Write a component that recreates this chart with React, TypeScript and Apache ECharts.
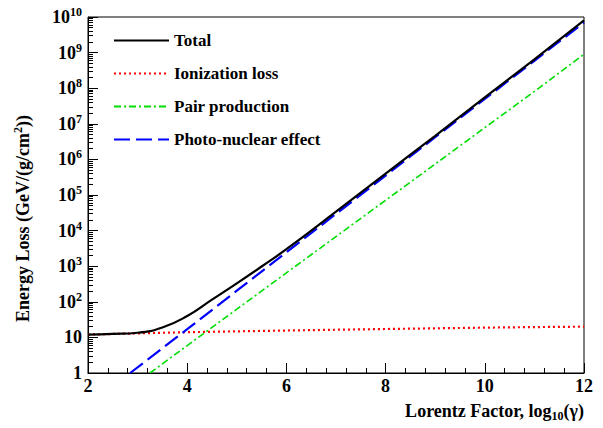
import React, { useEffect, useRef } from "react";
import * as echarts from "echarts";

const xTotal = [2, 2.5, 3, 3.5, 4, 4.5, 5, 5.5, 6, 7, 8, 9, 10, 11, 12];
const yTotal = [12, 12.5, 13.5, 19, 40, 115, 330, 980, 3000, 3.4e4, 4e5, 4.6e6, 5.5e7, 6.5e8, 8e9];
const xIon = [2, 3, 4, 5, 6, 7, 8, 9, 10, 11, 12];
const yIon = [12, 13, 14, 14.8, 15.6, 16.4, 17.2, 18, 18.8, 19.5, 20];
const xPair = [3.25, 4, 5, 6, 7, 8, 9, 10, 11, 12];
const yPair = [1, 5.9, 62, 650, 6.8e3, 7.1e4, 7.4e5, 7.8e6, 8.1e7, 9e8];
const xPhoto = [2.85, 4, 5, 6, 7, 8, 9, 10, 11, 12];
const yPhoto = [1, 17, 205, 2450, 2.95e4, 3.5e5, 4.2e6, 5e7, 5.9e8, 7e9];

const zip = (xs: number[], ys: number[]) => xs.map((x, i) => [x, ys[i]]);
const font = "Liberation Serif";

export default function App() {
  const ref = useRef<HTMLDivElement>(null);
  useEffect(() => {
    const chart = echarts.init(ref.current!, null, { renderer: "svg" });
    const axisLabelBase = { fontFamily: font, fontWeight: "bold", fontSize: 18, color: "#000" };
    chart.setOption({
      animation: false,
      grid: { left: 88, right: 19, top: 17, bottom: 55, show: true, borderColor: "#000", borderWidth: 1 },
      legend: {
        orient: "vertical", left: 108, top: 27, itemWidth: 55, itemHeight: 14, itemGap: 16,
        itemStyle: { opacity: 0 },
        textStyle: { ...axisLabelBase, fontSize: 17 },
        data: ["Total", "Ionization loss", "Pair production", "Photo-nuclear effect"],
      },
      xAxis: {
        type: "value", min: 2, max: 12, interval: 2,
        axisLine: { lineStyle: { color: "#000" } },
        axisTick: { inside: true, length: 10, lineStyle: { color: "#000" } },
        minorTick: { show: true, splitNumber: 5, length: 5, lineStyle: { color: "#000" } },
        splitLine: { show: false },
        axisLabel: { ...axisLabelBase, margin: 4 },
      },
      yAxis: {
        type: "log", min: 1, max: 1e10, logBase: 10, interval: 1,
        axisLine: { lineStyle: { color: "#000" } },
        axisTick: { inside: true, length: 10, lineStyle: { color: "#000" } },
        minorTick: { show: true, splitNumber: 9, length: 5, lineStyle: { color: "#000" } },
        splitLine: { show: false },
        axisLabel: {
          ...axisLabelBase, margin: 6,
          formatter: (v: number) => {
            const e = Math.round(Math.log10(v));
            if (e === 0) return "1";
            if (e === 1) return "10";
            return "10{sup|" + e + "}";
          },
          rich: { sup: { fontFamily: font, fontWeight: "bold", fontSize: 12, verticalAlign: "bottom", padding: [0, 0, 10, 0], color: "#000" } },
        },
      },
      graphic: [
        {
          type: "text", right: 19, top: 402,
          style: {
            text: "Lorentz Factor, log{sub|10}(γ)", fontFamily: font, fontWeight: "bold", fontSize: 18, fill: "#000",
            rich: { sub: { fontFamily: font, fontWeight: "bold", fontSize: 12, padding: [10, 0, 0, 0] } },
          },
        },
        {
          type: "text", x: 12, y: 322, rotation: Math.PI / 2,
          style: {
            text: "Energy Loss (GeV/(g/cm{sup|2}))", fontFamily: font, fontWeight: "bold", fontSize: 18, fill: "#000",
            rich: { sup: { fontFamily: font, fontWeight: "bold", fontSize: 12, padding: [0, 0, 10, 0] } },
          },
        },
      ],
      series: [
        { name: "Total", type: "line", data: zip(xTotal, yTotal), smooth: true, showSymbol: false, symbol: "none", lineStyle: { color: "#000", width: 2.2 }, itemStyle: { color: "#000" }, z: 5 },
        { name: "Ionization loss", type: "line", data: zip(xIon, yIon), showSymbol: false, symbol: "none", lineStyle: { color: "#ff0000", width: 2.2, type: [2, 3] }, itemStyle: { color: "#ff0000" } },
        { name: "Pair production", type: "line", data: zip(xPair, yPair), showSymbol: false, symbol: "none", lineStyle: { color: "#00dd00", width: 1.6, type: [7, 3, 2, 3] }, itemStyle: { color: "#00dd00" } },
        { name: "Photo-nuclear effect", type: "line", data: zip(xPhoto, yPhoto), showSymbol: false, symbol: "none", lineStyle: { color: "#0000ff", width: 2.2, type: [16, 6] }, itemStyle: { color: "#0000ff" } },
      ],
    });
    return () => chart.dispose();
  }, []);
  return <div ref={ref} style={{ width: 603, height: 428, position: "absolute", left: 0, top: 0, background: "#fff" }} />;
}
